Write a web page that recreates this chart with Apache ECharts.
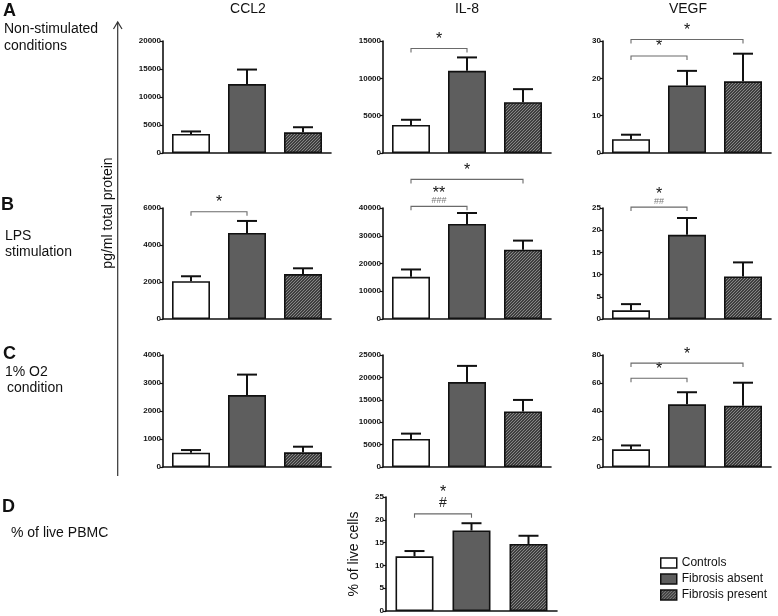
<!DOCTYPE html>
<html><head><meta charset="utf-8">
<script src="https://cdn.jsdelivr.net/npm/echarts@6/dist/echarts.min.js"></script>
<style>html,body{margin:0;padding:0;background:#fff}#c{width:778px;height:616px}</style>
</head><body><div id="c"></div>
<script>
// ---------- data ----------
const groups = ['Controls', 'Fibrosis absent', 'Fibrosis present'];
const cytokines = ['CCL2', 'IL-8', 'VEGF'];
const conditions = ['Non-stimulated conditions', 'LPS stimulation', '1% O2 condition', '% of live PBMC'];

// A: non-stimulated (mean, SEM)
const ccl2NonStimMean = [3400, 12300, 3700];
const ccl2NonStimSem  = [450, 2600, 900];
const il8NonStimMean  = [3750, 11000, 6800];
const il8NonStimSem   = [700, 1800, 1750];
const vegfNonStimMean = [3.7, 18.1, 19.2];
const vegfNonStimSem  = [1.2, 3.9, 7.4];
// B: LPS stimulation
const ccl2LpsMean = [2040, 4650, 2430];
const ccl2LpsSem  = [270, 650, 310];
const il8LpsMean  = [15200, 34250, 25000];
const il8LpsSem   = [2650, 3950, 3250];
const vegfLpsMean = [1.95, 18.95, 9.6];
const vegfLpsSem  = [1.4, 3.8, 3.15];
// C: 1% O2
const ccl2HypoMean = [510, 2570, 525];
const ccl2HypoSem  = [95, 730, 200];
const il8HypoMean  = [6270, 18950, 12390];
const il8HypoSem   = [1180, 3620, 2580];
const vegfHypoMean = [12.6, 44.8, 43.8];
const vegfHypoSem  = [2.8, 8.6, 16.4];
// D: % of live PBMC
const liveMean = [12.0, 17.65, 14.7];
const liveSem  = [1.15, 1.6, 1.8];

// y-axis ticks [max, interval]
const ccl2NonStimAxis = [20000, 5000];
const il8NonStimAxis  = [15000, 5000];
const vegfNonStimAxis = [30, 10];
const ccl2LpsAxis = [6000, 2000];
const il8LpsAxis  = [40000, 10000];
const vegfLpsAxis = [25, 5];
const ccl2HypoAxis = [4000, 1000];
const il8HypoAxis  = [25000, 5000];
const vegfHypoAxis = [80, 20];
const liveAxis = [25, 5];

// significance brackets: [fromGroup, toGroup, level(data units)], labels
const il8NonStimSig  = [[0, 1, 14000]];   const il8NonStimSigLab  = [['*']];
const vegfNonStimSig = [[0, 1, 26.0], [0, 2, 30.4]]; const vegfNonStimSigLab = [['*'], ['*']];
const ccl2LpsSig = [[0, 1, 5800]];        const ccl2LpsSigLab = [['*']];
const il8LpsSig  = [[0, 1, 40600], [0, 2, 50300]]; const il8LpsSigLab = [['**', '###'], ['*']];
const vegfLpsSig = [[0, 1, 25.2]];        const vegfLpsSigLab = [['*', '##']];
const vegfHypoSig = [[0, 1, 63.4], [0, 2, 74.2]]; const vegfHypoSigLab = [['*'], ['*']];
const liveSig = [[0, 1, 21.3]];           const liveSigLab = [['*', '#']];

// ---------- layout / styles ----------
const FONT = 'Liberation Sans, Arial, sans-serif';
const colLeft = [163, 383, 603];
const rowTop = [41, 208, 355];
const rowH = [112, 111, 112];
const panels = [
  {mean: ccl2NonStimMean, sem: ccl2NonStimSem, axis: ccl2NonStimAxis, r: 0, c: 0},
  {mean: il8NonStimMean, sem: il8NonStimSem, axis: il8NonStimAxis, r: 0, c: 1, sig: il8NonStimSig, lab: il8NonStimSigLab},
  {mean: vegfNonStimMean, sem: vegfNonStimSem, axis: vegfNonStimAxis, r: 0, c: 2, sig: vegfNonStimSig, lab: vegfNonStimSigLab},
  {mean: ccl2LpsMean, sem: ccl2LpsSem, axis: ccl2LpsAxis, r: 1, c: 0, sig: ccl2LpsSig, lab: ccl2LpsSigLab},
  {mean: il8LpsMean, sem: il8LpsSem, axis: il8LpsAxis, r: 1, c: 1, sig: il8LpsSig, lab: il8LpsSigLab},
  {mean: vegfLpsMean, sem: vegfLpsSem, axis: vegfLpsAxis, r: 1, c: 2, sig: vegfLpsSig, lab: vegfLpsSigLab},
  {mean: ccl2HypoMean, sem: ccl2HypoSem, axis: ccl2HypoAxis, r: 2, c: 0},
  {mean: il8HypoMean, sem: il8HypoSem, axis: il8HypoAxis, r: 2, c: 1},
  {mean: vegfHypoMean, sem: vegfHypoSem, axis: vegfHypoAxis, r: 2, c: 2, sig: vegfHypoSig, lab: vegfHypoSigLab},
  {mean: liveMean, sem: liveSem, axis: liveAxis, grid: {left: 386, top: 497, width: 171, height: 114}, sig: liveSig, lab: liveSigLab, yName: '% of live cells'}
];

function makeHatch() {
  const c = document.createElement('canvas');
  c.width = 3; c.height = 3;
  const g = c.getContext('2d');
  g.fillStyle = '#3f3f3f'; g.fillRect(0, 0, 3, 3);
  g.strokeStyle = '#8e8e8e'; g.lineWidth = 0.9;
  g.beginPath();
  g.moveTo(-1, 4); g.lineTo(4, -1);
  g.moveTo(-2, 2); g.lineTo(2, -2);
  g.moveTo(1, 5); g.lineTo(5, 1);
  g.stroke();
  return c;
}
const hatch = {image: makeHatch(), repeat: 'repeat'};
const fills = ['#ffffff', '#5e5e5e', hatch];

const grids = [], xAxes = [], yAxes = [], series = [];
panels.forEach((p, k) => {
  grids.push(p.grid ? p.grid : {left: colLeft[p.c], top: rowTop[p.r], width: 168, height: rowH[p.r]});
  xAxes.push({
    type: 'category', gridIndex: k, data: groups,
    axisLine: {lineStyle: {color: '#111', width: 1.6}},
    axisTick: {alignWithLabel: true, interval: (i) => i === 1, length: 4, lineStyle: {color: '#111', width: 1.2}},
    axisLabel: {show: false}
  });
  yAxes.push({
    type: 'value', gridIndex: k, min: 0, max: p.axis[0], interval: p.axis[1],
    axisLine: {show: true, lineStyle: {color: '#111', width: 1.6}},
    axisTick: {show: true, length: 3, lineStyle: {color: '#111', width: 1.2}},
    axisLabel: {fontSize: 8, fontWeight: 'bold', color: '#111', fontFamily: FONT, margin: 2, formatter: (v) => String(v)},
    splitLine: {show: false},
    name: p.yName || '', nameLocation: 'middle', nameGap: 25, nameRotate: 90,
    nameTextStyle: {fontSize: 14, color: '#111', fontFamily: FONT}
  });
  groups.forEach((g, gi) => {
    series.push({
      type: 'bar', name: g, xAxisIndex: k, yAxisIndex: k,
      barWidth: 38, barGap: '-100%',
      data: p.mean.map((v, i) => (i === gi ? v : '-')),
      itemStyle: {color: fills[gi], borderColor: '#111', borderWidth: 1.6},
      z: 2
    });
  });
  series.push({
    type: 'custom', xAxisIndex: k, yAxisIndex: k, z: 3, clip: false,
    data: p.mean.map((v, i) => [i, v, p.sem[i]]),
    renderItem: (params, api) => {
      const i = api.value(0), m = api.value(1), s = api.value(2);
      const p0 = api.coord([i, m]), p1 = api.coord([i, m + s]);
      const hw = 10;
      return {type: 'group', children: [
        {type: 'line', shape: {x1: p0[0], y1: p0[1], x2: p1[0], y2: p1[1]}, style: {stroke: '#111', lineWidth: 2}},
        {type: 'line', shape: {x1: p1[0] - hw, y1: p1[1], x2: p1[0] + hw, y2: p1[1]}, style: {stroke: '#111', lineWidth: 2}}
      ]};
    }
  });
  if (p.sig) {
    series.push({
      type: 'custom', xAxisIndex: k, yAxisIndex: k, z: 4, clip: false,
      data: p.sig,
      renderItem: (params, api) => {
        const a = api.coord([api.value(0), api.value(2)]);
        const b = api.coord([api.value(1), api.value(2)]);
        const y = a[1];
        const labs = p.lab[params.dataIndex];
        const ch = [{type: 'polyline', shape: {points: [[a[0], y + 4], [a[0], y], [b[0], y], [b[0], y + 4]]},
          style: {stroke: '#6a6a6a', lineWidth: 1.1, fill: null}}];
        const cx = (a[0] + b[0]) / 2;
        let primBottom = y - 1;
        if (labs.length > 1) {
          const small = labs[1].length > 1;
          ch.push({type: 'text', x: cx, y: small ? y - 6 : y - 11,
            style: {text: labs[1], fontSize: small ? 9 : 14, fill: small ? '#777' : '#222', fontFamily: FONT,
              align: 'center', verticalAlign: 'middle'}});
          primBottom = small ? y - 5 : y - 13;
        }
        ch.push({type: 'text', x: cx, y: primBottom,
          style: {text: labs[0], fontSize: 16, fill: '#111', fontFamily: FONT, align: 'center', verticalAlign: 'bottom'}});
        return {type: 'group', children: ch};
      }
    });
  }
});

const txt = (t, x, y, size, extra) => Object.assign({type: 'text', x: x, y: y,
  style: Object.assign({text: t, fontSize: size, fontFamily: FONT, fill: '#111', align: 'left', verticalAlign: 'middle'}, extra || {})});

const graphics = [
  txt(cytokines[0], 248, 9, 14, {align: 'center'}),
  txt(cytokines[1], 467, 9, 14, {align: 'center'}),
  txt(cytokines[2], 688, 9, 14, {align: 'center'}),
  txt('A', 3, 11, 18, {fontWeight: 'bold'}),
  txt('Non-stimulated', 4, 29, 14),
  txt('conditions', 4, 46, 14),
  txt('B', 1, 205, 18, {fontWeight: 'bold'}),
  txt('LPS', 5, 236, 14),
  txt('stimulation', 5, 252, 14),
  txt('C', 3, 354, 18, {fontWeight: 'bold'}),
  txt('1% O2', 5, 372, 14),
  txt('condition', 7, 388, 14),
  txt('D', 2, 507, 18, {fontWeight: 'bold'}),
  txt(conditions[3], 11, 533, 14),
  Object.assign(txt('pg/ml total protein', 108, 213, 14, {align: 'center'}), {rotation: Math.PI / 2}),
  {type: 'line', shape: {x1: 117.7, y1: 22, x2: 117.7, y2: 476}, style: {stroke: '#333', lineWidth: 1.2}},
  {type: 'polyline', shape: {points: [[113.5, 29], [117.7, 22], [122, 29]]}, style: {stroke: '#333', lineWidth: 1.2, fill: null}}
];

const chart = echarts.init(document.getElementById('c'), null, {renderer: 'canvas'});
chart.setOption({
  animation: false,
  backgroundColor: '#fff',
  textStyle: {fontFamily: FONT},
  grid: grids, xAxis: xAxes, yAxis: yAxes, series: series,
  legend: {
    data: groups, orient: 'vertical', left: 655, top: 552, padding: 5,
    itemWidth: 16, itemHeight: 10, itemGap: 4, icon: 'rect',
    itemStyle: {borderColor: '#111', borderWidth: 1.5},
    textStyle: {fontSize: 12, color: '#111', fontFamily: FONT},
    selectedMode: false
  },
  graphic: graphics
});
</script></body></html>
